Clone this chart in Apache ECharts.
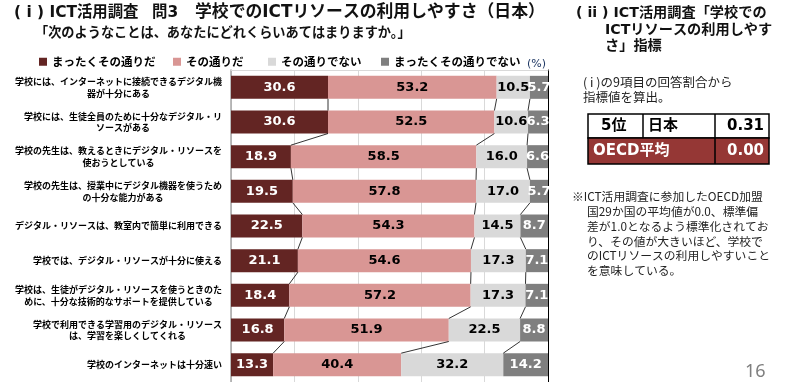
<!DOCTYPE html>
<html><head><meta charset="utf-8">
<script src="https://cdn.jsdelivr.net/npm/echarts@6/dist/echarts.min.js"></script>
<style>html,body{margin:0;padding:0;background:#fff}#c{width:786px;height:382px}</style>
</head><body><div id="c"></div>
<script>
const categories = [
  '学校には、インターネットに接続できるデジタル機\n器が十分にある',
  '学校には、生徒全員のために十分なデジタル・リ\nソースがある',
  '学校の先生は、教えるときにデジタル・リソースを\n使おうとしている',
  '学校の先生は、授業中にデジタル機器を使うため\nの十分な能力がある',
  'デジタル・リソースは、教室内で簡単に利用できる',
  '学校では、デジタル・リソースが十分に使える',
  '学校は、生徒がデジタル・リソースを使うときのた\nめに、十分な技術的なサポートを提供している',
  '学校で利用できる学習用のデジタル・リソース\nは、学習を楽しくしてくれる',
  '学校のインターネットは十分速い'
];
const seriesNames = ['まったくその通りだ', 'その通りだ', 'その通りでない', 'まったくその通りでない'];
const stronglyAgree = [30.6, 30.6, 18.9, 19.5, 22.5, 21.1, 18.4, 16.8, 13.3];
const agree = [53.2, 52.5, 58.5, 57.8, 54.3, 54.6, 57.2, 51.9, 40.4];
const disagree = [10.5, 10.6, 16.0, 17.0, 14.5, 17.3, 17.3, 22.5, 32.2];
const stronglyDisagree = [5.7, 6.3, 6.6, 5.7, 8.7, 7.1, 7.1, 8.8, 14.2];
const valueAxisMin = 0, valueAxisMax = 100, valueAxisStep = 20;
const tableRank = ['5位', ''];
const tableNames = ['日本', 'OECD平均'];
const tableValues = [0.31, 0.00];
const noteLines = [
  '※ICT活用調査に参加したOECD加盟',
  '国29か国の平均値が0.0、標準偏',
  '差が1.0となるよう標準化されてお',
  'り、その値が大きいほど、学校で',
  'のICTリソースの利用しやすいこと',
  'を意味している。'
];

const colors = ['#632523', '#D99694', '#D9D9D9', '#7F7F7F'];
const labelColors = ['#fff', '#000', '#000', '#fff'];
const values = [stronglyAgree, agree, disagree, stronglyDisagree];
const legendLefts = [34, 168, 263, 376];
const BAR_H = 23;
const JP = "'Noto Sans CJK JP', sans-serif";
const MIX = "'DejaVu Sans', 'Noto Sans CJK JP', sans-serif";

// font size that makes a text span a given width
const ctx = document.createElement('canvas').getContext('2d');
function fitSize(text, weight, family, targetWidth) {
  ctx.font = `${weight} 100px ${family}`;
  return 100 * targetWidth / ctx.measureText(text).width;
}

// series lines between consecutive bars
const connectorData = [];
for (let i = 0; i < categories.length - 1; i++) {
  let c1 = 0, c2 = 0;
  for (let k = 0; k < 3; k++) {
    c1 += values[k][i]; c2 += values[k][i + 1];
    connectorData.push([c1, i, c2, i + 1]);
  }
}

const chart = echarts.init(document.getElementById('c'));
const barSeries = seriesNames.map((name, s) => ({
  name, type: 'bar', stack: 'all', barWidth: BAR_H,
  itemStyle: { color: colors[s] },
  label: {
    show: true, position: 'inside', color: labelColors[s],
    fontFamily: "'DejaVu Sans', sans-serif", fontWeight: 'bold', fontSize: 13,
    formatter: p => p.value.toFixed(1)
  },
  data: values[s]
}));

// text at (x, centerY)
const txt = (x, y, text, size, o) => {
  o = o || {};
  return {
    type: 'text', x, y, z: 10,
    style: {
      text, fill: o.fill || '#000', align: o.align || 'left', verticalAlign: 'middle',
      font: `${o.weight || 'normal'} ${size}px ${o.family || MIX}`
    }
  };
};

const noteGraphics = noteLines.map((l, i) => txt(i === 0 ? 572 : 587, 197 + i * 14.7, l, 11.8, { family: JP, fill: '#222' }));
const titleTail = '学校でのICTリソースの利用しやすさ（日本）';
const titleTailSize = Math.min(17, fitSize(titleTail, 'bold', MIX, 350));

chart.setOption({
  animation: false,
  color: colors,
  grid: { left: 231, top: 70, width: 317, height: 317 },
  legend: seriesNames.map((n, i) => ({
    data: [n], left: legendLefts[i], top: 51, icon: 'rect', itemWidth: 8, itemHeight: 8,
    textStyle: { fontFamily: JP, fontWeight: 'bold', fontSize: 11.5, color: '#000' }
  })),
  xAxis: {
    type: 'value', min: valueAxisMin, max: valueAxisMax, interval: valueAxisStep, position: 'top',
    axisLine: { show: true, lineStyle: { color: '#d9d9d9' } },
    axisTick: { show: false }, axisLabel: { show: false },
    splitLine: { show: true, lineStyle: { color: '#d9d9d9', width: 1 } }
  },
  yAxis: [{
    type: 'category', data: categories, inverse: true,
    axisLine: { show: true, lineStyle: { color: '#a6a6a6', width: 1.5 } },
    axisTick: { show: false },
    axisLabel: {
      margin: 9, color: '#000', fontFamily: JP, fontWeight: 'bold', fontSize: 9, lineHeight: 11.5,
      formatter: v => v.split('\n').map(l => '{c|' + l + '}').join('\n'),
      rich: { c: { align: 'center', fontFamily: JP, fontWeight: 'bold', fontSize: 9, lineHeight: 11.5, color: '#000' } }
    }
  }, {
    type: 'category', data: categories, inverse: true, position: 'right',
    axisLine: { show: true, lineStyle: { color: '#000', width: 1 } },
    axisTick: { show: false }, axisLabel: { show: false }
  }],
  series: barSeries.concat([{
    type: 'custom', silent: true, z: 5,
    encode: { x: [0, 2], y: [1, 3] },
    data: connectorData,
    renderItem: (params, api) => {
      const p1 = api.coord([api.value(0), api.value(1)]);
      const p2 = api.coord([api.value(2), api.value(3)]);
      return { type: 'line', shape: { x1: p1[0], y1: p1[1] + BAR_H / 2, x2: p2[0], y2: p2[1] - BAR_H / 2 },
        style: { stroke: '#000', lineWidth: 0.8 } };
    }
  }]),
  graphic: [
    txt(14, 13, '( i ) ICT活用調査', 15.4, { weight: 'bold', fill: '#111' }),
    txt(152, 13, '問3', 15.4, { weight: 'bold', fill: '#111' }),
    txt(195, 13, titleTail, titleTailSize, { weight: 'bold', fill: '#111' }),
    txt(35, 32, '「次のようなことは、あなたにどれくらいあてはまりますか。」', 13.2, { family: JP, weight: 'bold', fill: '#111' }),
    txt(527, 64, '(%)', 11, { fill: '#1F3864' }),
    txt(576, 13, '( ii ) ICT活用調査「学校での', 14.2, { weight: 'bold', fill: '#111' }),
    txt(605, 30, 'ICTリソースの利用しやす', 14.2, { weight: 'bold', fill: '#111' }),
    txt(605, 46, 'さ」指標', 14.2, { weight: 'bold', fill: '#111' }),
    txt(583, 82, '( i )の9項目の回答割合から', 12.5, { family: JP, fill: '#222' }),
    txt(583, 97.5, '指標値を算出。', 12.5, { family: JP, fill: '#222' }),
    { type: 'rect', shape: { x: 588, y: 114, width: 181, height: 24 }, style: { fill: '#fff', stroke: '#000', lineWidth: 1.5 } },
    { type: 'rect', shape: { x: 588, y: 138, width: 181, height: 26 }, style: { fill: '#953735', stroke: '#000', lineWidth: 1.5 } },
    { type: 'line', shape: { x1: 643, y1: 114, x2: 643, y2: 138 }, style: { stroke: '#000', lineWidth: 1.5 } },
    { type: 'line', shape: { x1: 715, y1: 114, x2: 715, y2: 164 }, style: { stroke: '#000', lineWidth: 1.5 } },
    txt(601, 126, tableRank[0], 15, { weight: 'bold' }),
    txt(648, 126, tableNames[0], 15, { weight: 'bold' }),
    txt(764, 126, tableValues[0].toFixed(2), 15, { weight: 'bold', align: 'right' }),
    txt(593, 151, tableNames[1], 15, { weight: 'bold', fill: '#fff' }),
    txt(764, 151, tableValues[1].toFixed(2), 15, { weight: 'bold', align: 'right', fill: '#fff' }),
    txt(745, 372, '16', 18, { family: "'Noto Sans', sans-serif", fill: '#7f7f7f' })
  ].concat(noteGraphics)
});
</script></body></html>
